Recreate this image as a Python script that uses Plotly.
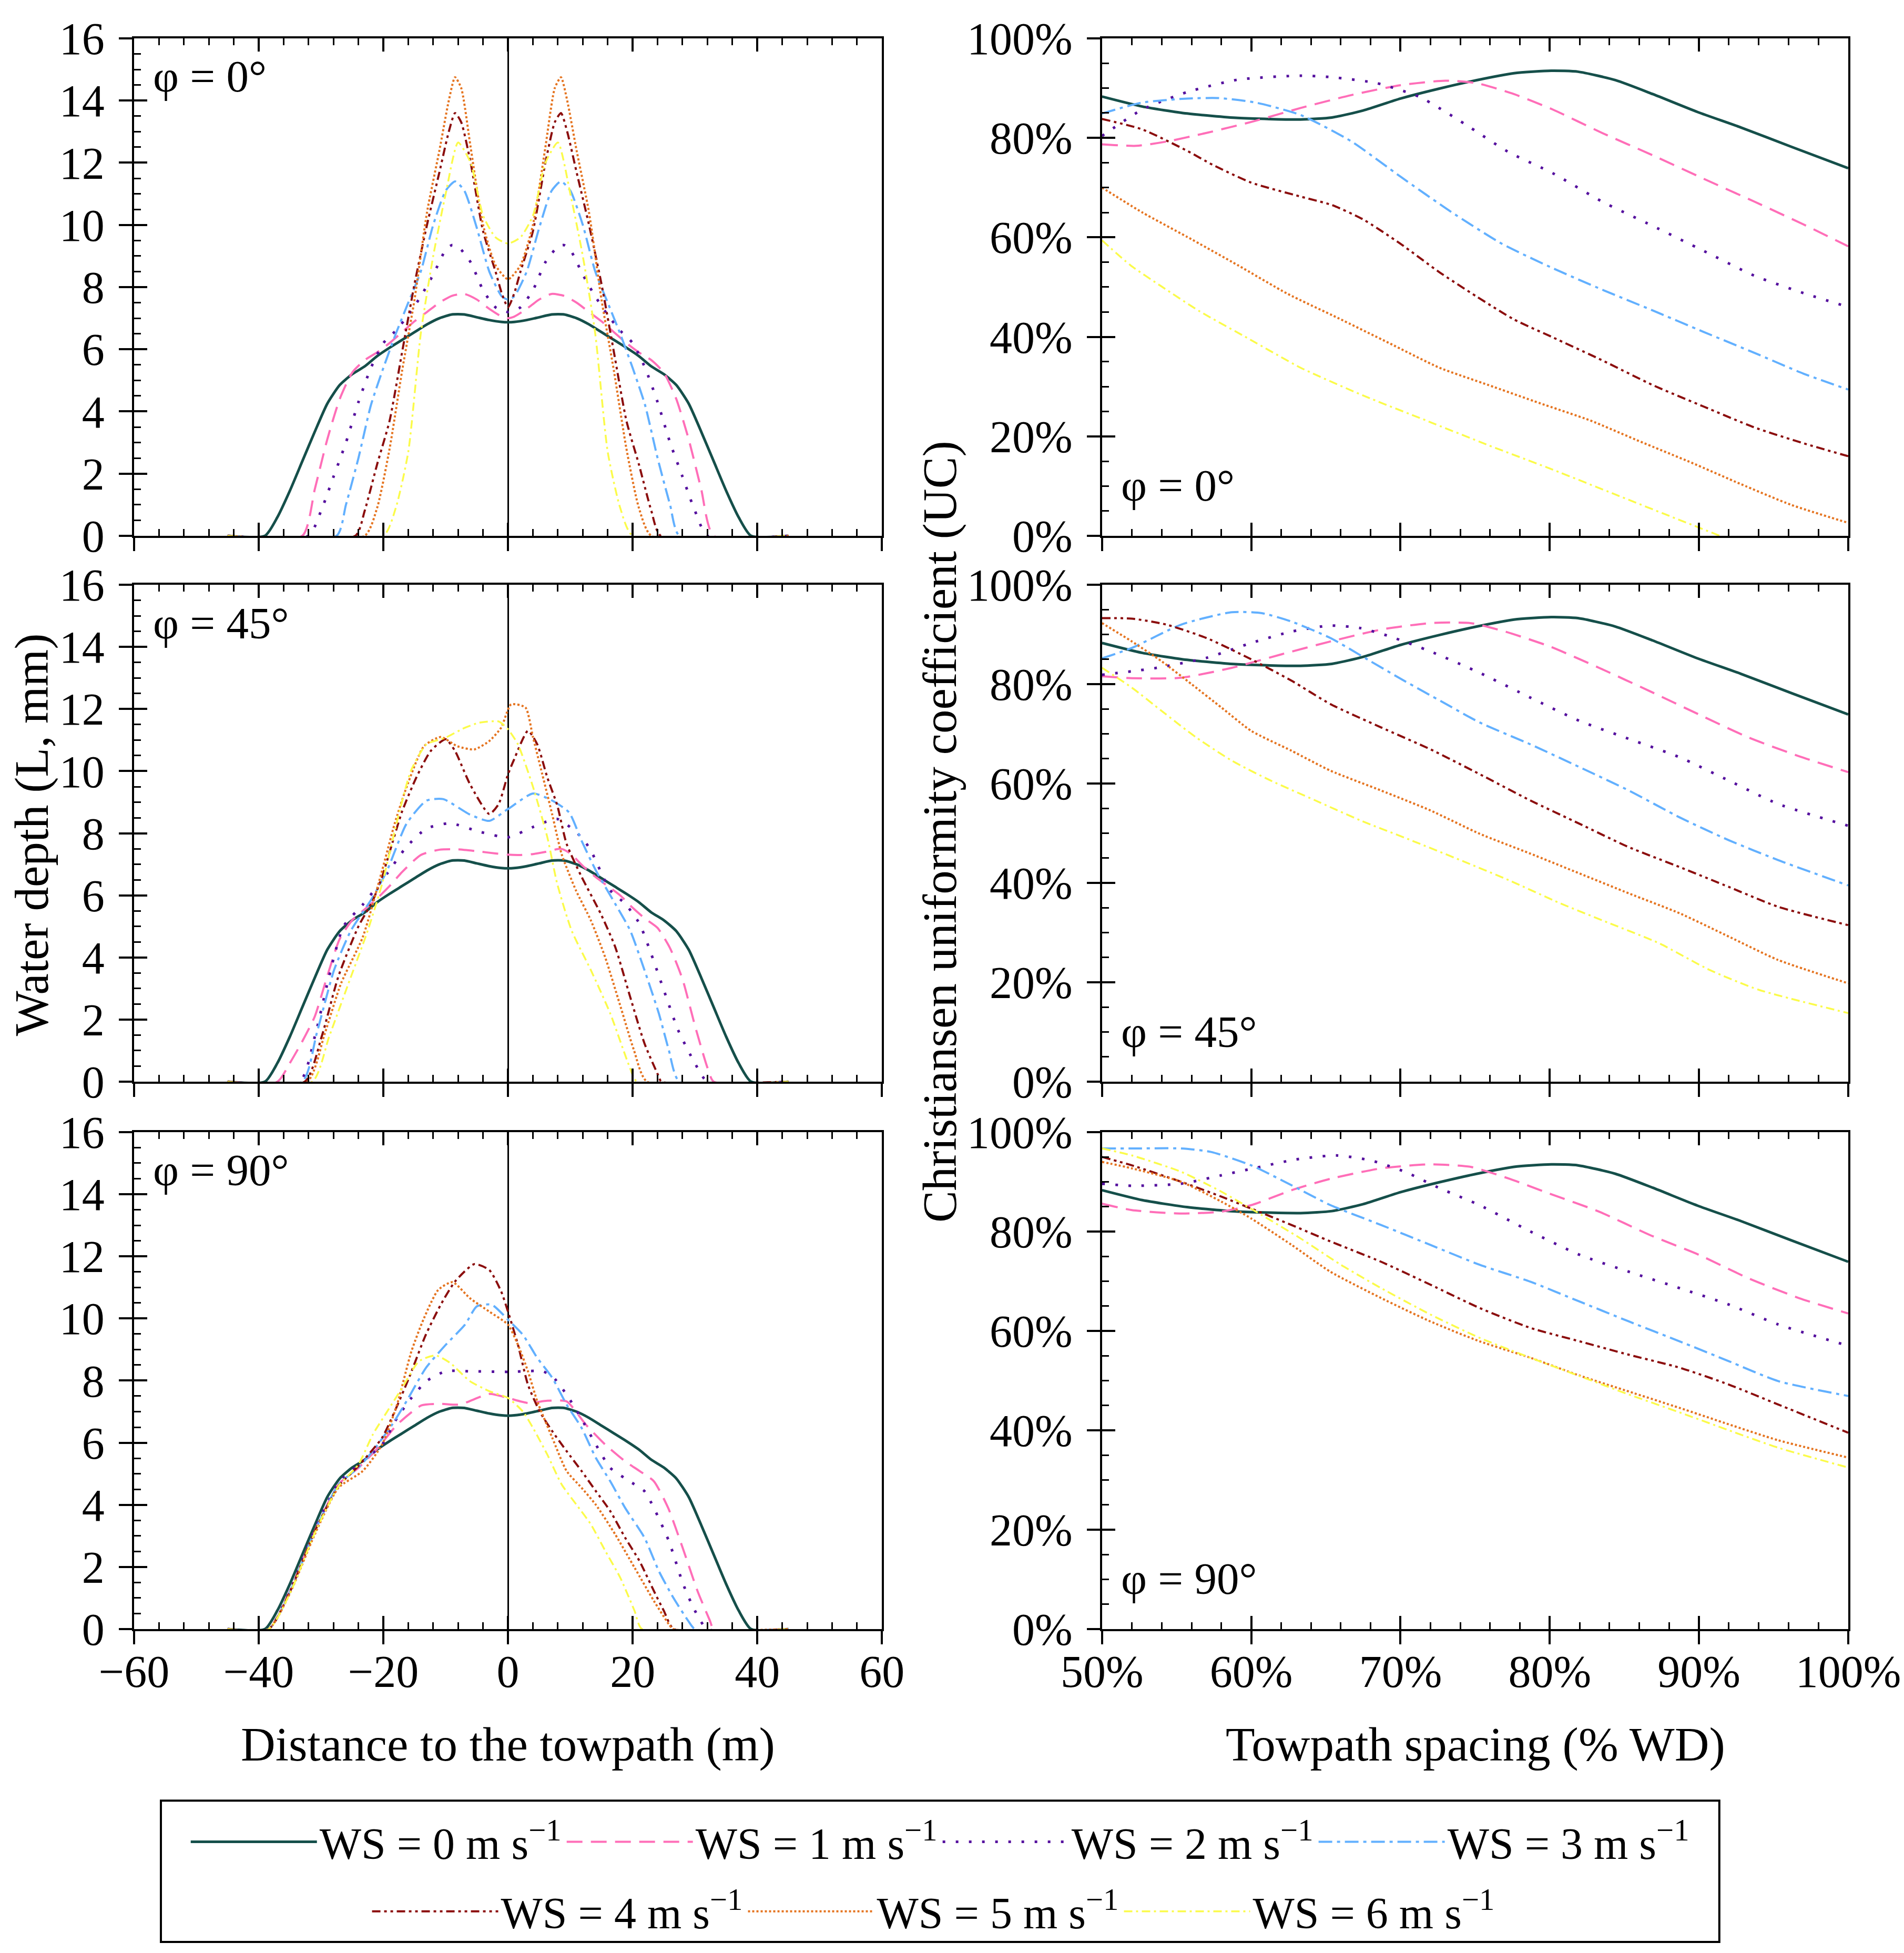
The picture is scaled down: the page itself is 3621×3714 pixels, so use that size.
import plotly.graph_objects as go

# ---- series styling / names ----
ws_names = ["WS = %d m s<sup>−1</sup>" % i for i in range(7)]
ws_colors = ["#154f4a", "#ff6eb8", "#55109e", "#62b0ff", "#8b0d0d", "#e57420", "#fbfb4a"]
ws_dashes = ["solid", "30px,16px", "5px,20px", "26px,9px,6px,9px",
             "16px,7px,5px,7px,5px,7px", "4px,4px", "16px,7px,4px,7px"]
ws_widths = [5, 4, 5, 4, 4, 4, 3.5]

# ---- water depth (mm) vs distance to towpath (m) ----
# WS = 0 is the same in every panel (no wind)
depth_ws0_x = [-45, -39, -37, -35, -33, -31, -29, -27, -25, -23, -21, -19, -17, -15, -13, -11, -9, -7, -5, -3, -1, 0,
               1, 3, 5, 7, 9, 11, 13, 15, 17, 19, 21, 23, 25, 27, 29, 31, 33, 35, 37, 39, 45]
depth_ws0_y = [0, 0, 0.6, 1.45, 2.4, 3.35, 4.25, 4.85, 5.2, 5.45, 5.78, 6.05, 6.3, 6.55, 6.8, 7.0, 7.12, 7.12, 7.03, 6.94, 6.88, 6.87,
               6.88, 6.94, 7.03, 7.12, 7.12, 7.0, 6.8, 6.55, 6.3, 6.05, 5.78, 5.45, 5.2, 4.85, 4.25, 3.35, 2.4, 1.45, 0.6, 0, 0]

# phi = 0
d0_ws1_x = [-45, -33, -31, -29, -27, -25, -23, -21, -19, -17, -15, -13, -11, -9, -7, -5, -3, -1, 0,
            1, 3, 5, 7, 9, 11, 13, 15, 17, 19, 21, 23, 25, 27, 29, 31, 33, 45]
d0_ws1_y = [0, 0, 1.5, 3.1, 4.4, 5.25, 5.65, 5.9, 6.2, 6.55, 6.9, 7.2, 7.5, 7.72, 7.78, 7.6, 7.3, 7.05, 7.0,
            7.05, 7.3, 7.6, 7.78, 7.72, 7.5, 7.2, 6.9, 6.55, 6.2, 5.9, 5.65, 5.25, 4.4, 3.1, 1.5, 0, 0]
d0_ws2_x = [-45, -32, -30, -28, -26, -24, -22, -20, -18, -16, -14, -12, -10, -9, -8, -6, -4, -2, 0,
            2, 4, 6, 8, 9, 10, 12, 14, 16, 18, 20, 22, 24, 26, 28, 30, 32, 45]
d0_ws2_y = [0, 0, 0.8, 1.9, 3.0, 4.3, 5.4, 6.2, 6.6, 7.1, 7.7, 8.4, 9.2, 9.35, 9.3, 8.8, 7.9, 7.35, 7.2,
            7.35, 7.9, 8.8, 9.3, 9.35, 9.2, 8.4, 7.7, 7.1, 6.6, 6.2, 5.4, 4.3, 3.0, 1.9, 0.8, 0, 0]
d0_ws3_x = [-45, -27.5, -26, -24, -22, -20, -18, -16, -14, -12, -10, -8.5, -7, -5, -3, -1, 0,
            1, 3, 5, 7, 8.5, 10, 12, 14, 16, 18, 20, 22, 24, 26, 27.5, 45]
d0_ws3_y = [0, 0, 1.0, 2.5, 4.2, 5.4, 6.5, 7.5, 8.5, 10.0, 11.1, 11.4, 11.1, 9.9, 8.5, 7.7, 7.6,
            7.7, 8.5, 9.9, 11.1, 11.4, 11.1, 10.0, 8.5, 7.5, 6.5, 5.4, 4.2, 2.5, 1.0, 0, 0]
d0_ws4_x = [-45, -24.5, -23, -21, -19, -17, -15, -13, -11, -9.5, -8.5, -7.5, -6, -4, -2, -1, 0,
            1, 2, 4, 6, 7.5, 8.5, 9.5, 11, 13, 15, 17, 19, 21, 23, 24.5, 45]
d0_ws4_y = [0, 0, 0.8, 2.3, 3.7, 5.9, 8.1, 10.0, 11.7, 13.0, 13.6, 13.3, 12.0, 9.8, 8.5, 7.8, 7.35,
            7.8, 8.5, 9.8, 12.0, 13.3, 13.6, 13.0, 11.7, 10.0, 8.1, 5.9, 3.7, 2.3, 0.8, 0, 0]
d0_ws5_x = [-45, -23, -21, -19, -17, -15, -13, -11, -9.5, -8.5, -7.5, -6, -4, -2, 0,
            2, 4, 6, 7.5, 8.5, 9.5, 11, 13, 15, 17, 19, 21, 23, 45]
d0_ws5_y = [0, 0, 0.9, 2.8, 5.3, 7.6, 10.4, 12.4, 14.0, 14.75, 14.4, 12.5, 10.0, 8.7, 8.25,
            8.7, 10.0, 12.5, 14.4, 14.75, 14.0, 12.4, 10.4, 7.6, 5.3, 2.8, 0.9, 0, 0]
d0_ws6_x = [-45, -20, -18, -16, -14, -12, -10, -8, -6, -4, -2, 0,
            2, 4, 6, 8, 10, 12, 14, 16, 18, 20, 45]
d0_ws6_y = [0, 0, 0.9, 2.7, 6.5, 9.0, 11.0, 12.65, 12.0, 10.3, 9.6, 9.4,
            9.6, 10.3, 12.0, 12.65, 11.0, 9.0, 6.5, 2.7, 0.9, 0, 0]

# phi = 45
d45_ws1_x = [-45, -37, -35, -33, -31, -29, -27, -25, -23, -21, -19, -17, -14, -11, -8, -5, -2, 0,
             2, 4, 6, 8.5, 10, 12, 14, 16, 18, 20, 22, 24, 26, 28, 30, 32, 33, 45]
d45_ws1_y = [0, 0, 0.6, 1.3, 2.1, 3.4, 4.6, 5.2, 5.55, 5.9, 6.3, 6.75, 7.3, 7.47, 7.48, 7.42, 7.35, 7.31,
             7.3, 7.33, 7.4, 7.5, 7.35, 6.95, 6.6, 6.3, 6.0, 5.6, 5.25, 4.95, 4.3, 3.3, 1.8, 0.45, 0, 0]
d45_ws2_x = [-45, -33.4, -31, -28.7, -26.4, -23.3, -19.4, -16.3, -13.1, -9.3, -4.6, 0,
             4, 7.9, 11.8, 13.3, 16.4, 18.8, 21.1, 23, 25, 27.3, 30, 32, 45]
d45_ws2_y = [0, 0, 1.45, 3.4, 5.0, 5.7, 6.7, 7.56, 8.15, 8.32, 8.05, 7.87,
             8.2, 8.46, 7.87, 7.44, 6.16, 5.73, 5.09, 4.1, 2.95, 1.66, 0.59, 0, 0]
d45_ws3_x = [-45, -33, -30.7, -27.9, -25.2, -21.7, -19.4, -16.3, -13.1, -10.4, -6.1, -3, 0,
             4, 7.1, 9.8, 11.8, 14.1, 17.2, 19.6, 21.9, 24.2, 25.8, 27.5, 45]
d45_ws3_y = [0, 0, 1.55, 3.6, 4.87, 5.94, 6.8, 8.3, 9.05, 9.1, 8.6, 8.4, 8.78,
             9.28, 9.05, 8.67, 7.76, 6.8, 5.73, 4.87, 3.59, 2.2, 1.02, 0, 0]
d45_ws4_x = [-45, -32.6, -29.9, -27.2, -24, -21.7, -20.2, -17, -14.7, -12.4, -10, -8.5, -6.1, -3, -1.5, 0,
             0.9, 3.2, 4.7, 6.3, 7.9, 9.4, 11.8, 14.9, 17.2, 19.6, 21.9, 24.2, 24.6, 45]
d45_ws4_y = [0, 0, 1.45, 3.4, 5.0, 5.83, 6.6, 8.7, 9.8, 10.65, 11.03, 10.65, 9.58, 8.62, 8.94, 9.9,
             10.34, 11.3, 10.86, 9.8, 8.9, 7.66, 6.6, 5.4, 4.34, 2.73, 1.23, 0.16, 0, 0]
d45_ws5_x = [-45, -32.2, -29.4, -26.8, -23.3, -20.2, -18.2, -16.3, -13.5, -10.8, -8.1, -5.4, -3, -1.1,
             0.5, 2.8, 4, 5.5, 7.1, 8.6, 10.9, 13.3, 15.6, 17.9, 20.2, 22.3, 45]
d45_ws5_y = [0, 0, 1.55, 3.16, 4.66, 6.8, 8.3, 9.47, 10.8, 11.1, 10.8, 10.7, 10.97, 11.4,
             12.15, 12.05, 11.1, 9.9, 8.6, 7.33, 6.16, 5.19, 4.0, 2.52, 1.02, 0, 0]
d45_ws6_x = [-45, -31.4, -28.7, -25.6, -22.5, -20.2, -17.9, -15.6, -13.1, -10, -6.9, -4.6, -1.5, 0,
             1.6, 4, 6.3, 7.9, 10.2, 13.3, 16.4, 19.5, 20.7, 45]
d45_ws6_y = [0, 0, 1.45, 3.16, 4.87, 6.37, 8.3, 10.0, 10.86, 11.08, 11.4, 11.56, 11.6, 11.35,
             10.86, 9.5, 7.88, 6.37, 4.87, 3.59, 2.2, 0.48, 0, 0]

# phi = 90
d90_ws1_x = [-45, -38.4, -35, -31, -27.2, -24, -20.9, -17.8, -13.9, -10.8, -7.7, -3, 0,
             3.2, 6.3, 9.4, 12.5, 15.6, 18.8, 21.1, 23.4, 25.7, 28, 30.4, 32.4, 33, 45]
d90_ws1_y = [0, 0, 1.23, 3.16, 4.66, 5.19, 5.83, 6.58, 7.2, 7.25, 7.23, 7.57, 7.44,
             7.28, 7.35, 7.33, 6.58, 5.94, 5.4, 5.09, 4.76, 3.9, 2.63, 1.23, 0.27, 0, 0]
d90_ws2_x = [-45, -38.4, -35, -31, -27.2, -23.3, -20.2, -17.8, -15.5, -13.1, -10, -6.1, 0,
             5.5, 7.1, 9.4, 11.7, 14.1, 16.4, 19.5, 21.9, 23.4, 25.8, 28.1, 30, 32, 45]
d90_ws2_y = [0, 0, 1.23, 3.2, 4.7, 5.4, 5.94, 6.8, 7.44, 7.98, 8.3, 8.3, 8.28,
             8.3, 8.14, 7.55, 6.8, 5.94, 5.19, 4.76, 4.44, 3.9, 2.84, 1.45, 0.59, 0, 0]
d90_ws3_x = [-45, -38.4, -35, -31, -27.2, -24, -21.7, -18.6, -16.3, -13.2, -10, -6.9, -5, -2.6, 0,
             2.4, 4.7, 7.1, 9.4, 11.8, 14.1, 16.4, 18.8, 21.9, 24.2, 26.5, 28.9, 30, 45]
d90_ws3_y = [0, 0, 1.2, 3.15, 4.65, 5.2, 5.73, 6.58, 7.33, 8.4, 9.15, 9.8, 10.39, 10.44, 9.96,
             9.47, 8.73, 8.09, 7.23, 6.48, 5.51, 4.76, 3.9, 2.94, 1.87, 1.02, 0.27, 0, 0]
d90_ws4_x = [-45, -38.4, -35, -31, -27.2, -24, -20.2, -18.2, -15.9, -13.2, -10.8, -8.5, -5.4, -3, -1.1, 0,
             1.6, 3.2, 5.1, 7.1, 9.4, 11.8, 14.1, 16.4, 18.8, 21.1, 23.4, 25, 26.6, 45]
d90_ws4_y = [0, 0, 1.2, 3.15, 4.6, 5.25, 6.16, 7.0, 8.08, 9.47, 10.44, 11.19, 11.75, 11.56, 10.87, 10.22,
             9.15, 7.87, 7.0, 6.37, 5.73, 5.09, 4.44, 3.8, 2.94, 2.19, 1.23, 0.59, 0, 0]
d90_ws5_x = [-45, -38.4, -35, -31, -27.2, -23.3, -20.2, -17.8, -15.5, -13.5, -11.2, -8.9, -6.1, -3, 0,
             1.6, 3.2, 4.7, 7.1, 9.4, 11.8, 14.1, 17.2, 20.3, 23.4, 25.8, 26.5, 45]
d90_ws5_y = [0, 0, 1.15, 3.05, 4.55, 5.09, 5.94, 7.23, 8.94, 10.0, 10.92, 11.17, 10.65, 10.22, 9.8,
             9.15, 8.3, 7.33, 6.16, 5.09, 4.55, 4.0, 3.05, 1.98, 0.91, 0.16, 0, 0]
d90_ws6_x = [-45, -38.4, -35, -31, -27.2, -24, -21.7, -19.4, -17, -14.3, -11.6, -9.3, -6.1, -3, 0,
             2.4, 4, 6.3, 8.6, 11, 13.3, 15.6, 18, 20.3, 21.5, 45]
d90_ws6_y = [0, 0, 1.15, 3.1, 4.6, 5.3, 6.26, 7.0, 7.76, 8.62, 8.81, 8.57, 7.98, 7.66, 7.44,
             7.0, 6.48, 5.62, 4.66, 4.0, 3.37, 2.52, 1.66, 0.59, 0, 0]

# ---- Christiansen uniformity coefficient (%) vs towpath spacing (% WD) ----
uc_ws0_x = [50, 52.7, 55.7, 59.1, 63.3, 65.4, 67.5, 70, 72.6, 75.1, 77.6, 80.1, 81.9, 84.4, 86.9, 89.9, 92.8, 96.2, 100]
uc_ws0_y = [88.3, 86.3, 84.9, 84.0, 83.7, 84.1, 85.5, 87.9, 89.9, 91.6, 93.0, 93.5, 93.3, 91.6, 88.8, 85.2, 82.1, 78.2, 73.9]

# phi = 0
u0_ws1_x = [50, 52.3, 54.4, 57, 60, 63.3, 66.7, 70, 73, 75.1, 77.6, 80.2, 83.5, 86.9, 90.3, 93.7, 97, 100]
u0_ws1_y = [78.7, 78.4, 79.3, 81, 83.2, 86, 88.6, 90.6, 91.5, 91, 88.8, 85.7, 81, 76.5, 71.8, 67.2, 62.6, 58.2]
u0_ws2_x = [50, 52.7, 55.7, 59.1, 63.3, 65.4, 68.4, 71.3, 74.3, 77.2, 80.2, 83.5, 86.9, 90.3, 93.7, 97, 100]
u0_ws2_y = [80.4, 85.7, 89.2, 91.7, 92.5, 92.2, 91, 88.2, 82.8, 77.2, 72.9, 67.2, 62.3, 57.3, 52.3, 48.8, 46.0]
u0_ws3_x = [50, 52.7, 55.7, 57.8, 60.3, 63.3, 66.7, 70, 73.4, 76.8, 80.2, 83.5, 86.9, 90.3, 93.7, 97, 100]
u0_ws3_y = [84.9, 87.1, 87.9, 88.0, 87.1, 84.6, 79.3, 72.2, 65.1, 58.7, 53.8, 49.5, 45.3, 41.0, 36.8, 32.6, 29.4]
u0_ws4_x = [50, 52.7, 55.7, 57.4, 60, 63.3, 65.4, 67.5, 70, 72.6, 75.1, 77.6, 80.2, 83.5, 86.9, 90.3, 93.7, 97, 100]
u0_ws4_y = [83.8, 81.7, 77.4, 74.6, 71.0, 68.2, 66.5, 63.6, 58.7, 53, 48.1, 43.5, 39.9, 35.3, 30.3, 26.0, 21.8, 18.6, 16.0]
u0_ws5_x = [50, 52.7, 55.7, 59.1, 62.4, 65.8, 69.2, 72.6, 75.9, 79.3, 82.7, 86.1, 89.5, 92.8, 96.2, 100]
u0_ws5_y = [70, 65, 60.1, 54.4, 48.7, 43.8, 38.8, 33.8, 30.3, 26.7, 23.2, 18.9, 14.7, 10.4, 6.2, 2.6]
u0_ws6_x = [50, 51.9, 54, 56.5, 59.9, 63.3, 67.5, 71.7, 75.9, 80.2, 84.4, 88.6, 91.4]
u0_ws6_y = [59.4, 54.4, 50.1, 45.2, 39.5, 33.8, 28.2, 23.2, 18.2, 13.3, 8.3, 3.3, 0]

# phi = 45
u45_ws1_x = [50, 52, 55.3, 58.7, 62, 65.3, 68.7, 72, 74.7, 77, 80, 83.3, 86.7, 90, 93.3, 96.7, 100]
u45_ws1_y = [81.6, 81.2, 81.3, 83.3, 86, 88.6, 91, 92.3, 92.3, 90.6, 87.6, 83.3, 78.6, 73.9, 69.3, 65.5, 62.3]
u45_ws2_x = [50, 52, 53.7, 57, 60, 62.7, 65.3, 67.3, 69.3, 72, 75.3, 78.7, 82, 85.3, 88.7, 92, 95.3, 100]
u45_ws2_y = [81.9, 82.6, 83.3, 85.3, 88.3, 90.6, 91.8, 91.3, 89.6, 86.6, 82.3, 77.3, 72.6, 69.0, 65.3, 60.6, 55.9, 51.5]
u45_ws3_x = [50, 52, 55.3, 58.7, 60.7, 62.7, 65.3, 68, 70.3, 72.7, 75.3, 78.7, 82, 85.3, 88.7, 92, 95.3, 100]
u45_ws3_y = [85.2, 87.3, 92, 94.5, 94.3, 92.6, 89.3, 84.6, 80.6, 76.6, 72.3, 67.9, 63.3, 58.6, 53.2, 48.6, 44.6, 39.5]
u45_ws4_x = [50, 52, 54.3, 57, 60, 62.7, 65.3, 68.7, 72, 75.3, 78.7, 82, 85.3, 88.7, 92, 95.3, 100]
u45_ws4_y = [93.3, 93.2, 92.0, 89.3, 85, 80.7, 76, 71.3, 66.9, 61.9, 56.6, 51.9, 47.2, 43.2, 39.2, 35.2, 31.5]
u45_ws5_x = [50, 52, 54, 56, 58, 60, 62.7, 65.3, 68.7, 72, 75.3, 78.7, 82, 85.3, 88.7, 92, 95.3, 100]
u45_ws5_y = [92.3, 88.6, 84.6, 80, 75.3, 70.6, 66.6, 62.6, 58.6, 54.6, 49.9, 45.9, 41.9, 37.9, 33.9, 29.2, 24.5, 19.8]
u45_ws6_x = [50, 52, 54, 56.3, 58.7, 61.3, 64.3, 67.3, 70.7, 74, 77.3, 80.7, 84, 87.3, 90.7, 94, 100]
u45_ws6_y = [83.3, 79.3, 74.6, 69.3, 64.6, 60.6, 56.6, 52.6, 48.6, 44.6, 40.5, 35.9, 31.9, 27.9, 22.5, 18.5, 13.8]

# phi = 90
u90_ws1_x = [50, 52, 55.3, 58, 60, 62.7, 65.3, 68.7, 72, 74.7, 77.3, 80, 83.3, 86.7, 90, 93.3, 96.7, 100]
u90_ws1_y = [85.6, 84.3, 83.6, 84, 85.3, 88.3, 90.6, 92.7, 93.5, 93, 90.6, 87.6, 84, 79.3, 75.3, 70.6, 66.6, 63.5]
u90_ws2_x = [50, 52, 55.3, 58, 60.3, 63, 65.7, 68, 70.3, 72.7, 75.3, 78.7, 82, 85.3, 88.7, 92, 95.3, 100]
u90_ws2_y = [89.6, 89.2, 89.6, 91.3, 92.8, 94.5, 95.3, 94.3, 92, 88.6, 85.3, 80, 75.3, 71.9, 68.6, 65.3, 61.3, 57.0]
u90_ws3_x = [50, 52, 55.3, 57.3, 60, 62.7, 65.3, 68.7, 72, 75.3, 78.7, 82, 85.3, 88.7, 92, 95.3, 100]
u90_ws3_y = [96.7, 96.7, 96.7, 96, 93.3, 89.3, 85.3, 81.3, 77.3, 73.3, 69.9, 65.9, 61.9, 57.9, 53.9, 49.9, 46.9]
u90_ws4_x = [50, 52, 55.3, 58, 60, 62.7, 65.3, 68.7, 72, 75.3, 78.7, 82, 85.3, 88.7, 92, 95.3, 100]
u90_ws4_y = [95, 93.3, 90, 87, 84.6, 81.3, 78, 73.9, 69.3, 64.6, 60.6, 57.9, 55.2, 52.6, 49.2, 45.2, 39.5]
u90_ws5_x = [50, 52, 55.3, 58, 60, 62.7, 65.3, 68.7, 72, 75.3, 78.7, 82, 85.3, 88.7, 92, 95.3, 100]
u90_ws5_y = [94, 92.7, 90, 86, 82.6, 77.3, 71.9, 66.6, 61.9, 57.9, 54.6, 51.0, 47.8, 44.5, 41.2, 38.0, 34.5]
u90_ws6_x = [50, 52, 55.3, 58, 60.7, 63.3, 66, 68.7, 72, 75.3, 78.7, 82, 85.3, 88.7, 92, 95.3, 100]
u90_ws6_y = [96.7, 95.3, 92, 88, 83.3, 78.6, 73.3, 68.6, 63.3, 58.6, 54.6, 50.9, 47.2, 43.6, 40.0, 36.5, 32.5]

depth_panels = [
    [(depth_ws0_x, depth_ws0_y), (d0_ws1_x, d0_ws1_y), (d0_ws2_x, d0_ws2_y), (d0_ws3_x, d0_ws3_y),
     (d0_ws4_x, d0_ws4_y), (d0_ws5_x, d0_ws5_y), (d0_ws6_x, d0_ws6_y)],
    [(depth_ws0_x, depth_ws0_y), (d45_ws1_x, d45_ws1_y), (d45_ws2_x, d45_ws2_y), (d45_ws3_x, d45_ws3_y),
     (d45_ws4_x, d45_ws4_y), (d45_ws5_x, d45_ws5_y), (d45_ws6_x, d45_ws6_y)],
    [(depth_ws0_x, depth_ws0_y), (d90_ws1_x, d90_ws1_y), (d90_ws2_x, d90_ws2_y), (d90_ws3_x, d90_ws3_y),
     (d90_ws4_x, d90_ws4_y), (d90_ws5_x, d90_ws5_y), (d90_ws6_x, d90_ws6_y)],
]
uc_panels = [
    [(uc_ws0_x, uc_ws0_y), (u0_ws1_x, u0_ws1_y), (u0_ws2_x, u0_ws2_y), (u0_ws3_x, u0_ws3_y),
     (u0_ws4_x, u0_ws4_y), (u0_ws5_x, u0_ws5_y), (u0_ws6_x, u0_ws6_y)],
    [(uc_ws0_x, uc_ws0_y), (u45_ws1_x, u45_ws1_y), (u45_ws2_x, u45_ws2_y), (u45_ws3_x, u45_ws3_y),
     (u45_ws4_x, u45_ws4_y), (u45_ws5_x, u45_ws5_y), (u45_ws6_x, u45_ws6_y)],
    [(uc_ws0_x, uc_ws0_y), (u90_ws1_x, u90_ws1_y), (u90_ws2_x, u90_ws2_y), (u90_ws3_x, u90_ws3_y),
     (u90_ws4_x, u90_ws4_y), (u90_ws5_x, u90_ws5_y), (u90_ws6_x, u90_ws6_y)],
]
phi_labels = ["φ = 0°", "φ = 45°", "φ = 90°"]

W, H = 3621, 3714
FONT = "Liberation Serif"
TICK_FS = 86
TITLE_FS = 91
LEG_FS = 84
PHI_FS = 85

left_dom = [0.0682, 0.4610]
right_dom = [0.5766, 0.9685]
row_doms = [[0.7278, 0.9825], [0.4483, 0.7027], [0.1680, 0.4225]]

fig = go.Figure()
layout = {}

for row in range(3):
    for col in range(2):
        n = row * 2 + col + 1      # main axes
        m = n + 6                  # overlay axes (inside ticks)
        xs = "" if n == 1 else str(n)
        if col == 0:
            data = depth_panels[row]
            xr, yr = [-60, 60], [0, 16]
            xd, yd, xmin, ymin = 20, 2, 4, 0.5
            suffix = ""
        else:
            data = uc_panels[row]
            xr, yr = [50, 100], [0, 100]
            xd, yd, xmin, ymin = 10, 20, 2, 5
            suffix = "%"

        for i, (xv, yv) in enumerate(data):
            fig.add_trace(go.Scatter(
                x=xv, y=yv, mode="lines", name=ws_names[i],
                line=dict(color=ws_colors[i], dash=ws_dashes[i], width=ws_widths[i],
                          shape="spline", smoothing=0.6),
                xaxis="x" + xs, yaxis="y" + xs,
                showlegend=(n == 1), legend="legend" if i < 4 else "legend2",
                hoverinfo="skip"))

        # dummy traces so the overlay tick axes are drawn
        fig.add_trace(go.Scatter(x=[xr[0]], y=[yr[0]], mode="markers", marker=dict(opacity=0),
                                 xaxis="x%d" % m, yaxis="y" + xs, showlegend=False, hoverinfo="skip"))
        fig.add_trace(go.Scatter(x=[xr[0]], y=[yr[0]], mode="markers", marker=dict(opacity=0),
                                 xaxis="x" + xs, yaxis="y%d" % m, showlegend=False, hoverinfo="skip"))

        dom_x = left_dom if col == 0 else right_dom
        tickfont = dict(family=FONT, size=TICK_FS, color="black")
        layout["xaxis" + xs] = dict(
            domain=dom_x, anchor="y" + xs, range=xr, autorange=False, dtick=xd, tick0=xr[0],
            ticks="outside", ticklen=25, tickwidth=4, tickcolor="black", automargin=False,
            showline=True, linewidth=4, linecolor="black", mirror=True,
            showgrid=False, zeroline=(col == 0), zerolinecolor="black", zerolinewidth=2.5,
            showticklabels=(row == 2), ticksuffix=suffix, tickfont=tickfont, ticklabelstandoff=-22)
        layout["yaxis" + xs] = dict(
            domain=row_doms[row], anchor="x" + xs, range=yr, autorange=False, dtick=yd, tick0=0,
            ticks="outside", ticklen=25, tickwidth=4, tickcolor="black", automargin=False,
            showline=True, linewidth=4, linecolor="black", mirror=True,
            showgrid=False, zeroline=False, ticksuffix=suffix, tickfont=tickfont, ticklabelstandoff=10)
        layout["xaxis%d" % m] = dict(
            overlaying="x" + xs, anchor="y" + xs, side="bottom", range=xr, autorange=False,
            dtick=xd, tick0=xr[0], ticks="inside", ticklen=25, tickwidth=4, tickcolor="black",
            minor=dict(dtick=xmin, ticks="inside", ticklen=13, tickwidth=3, tickcolor="black"),
            showline=True, linewidth=4, linecolor="black", mirror="ticks", automargin=False,
            showgrid=False, zeroline=False, showticklabels=False)
        layout["yaxis%d" % m] = dict(
            overlaying="y" + xs, anchor="x" + xs, side="left", range=yr, autorange=False,
            dtick=yd, tick0=0, ticks="inside", ticklen=25, tickwidth=4, tickcolor="black",
            minor=dict(dtick=ymin, ticks="inside", ticklen=13, tickwidth=3, tickcolor="black"),
            showline=False, showgrid=False, zeroline=False, showticklabels=False, automargin=False)

annotations = []
phi_left_y = [0.963, 0.6832, 0.4032]
phi_right_y = [0.7536, 0.4739, 0.1939]
for r in range(3):
    annotations.append(dict(text=phi_labels[r], x=0.0776, y=phi_left_y[r], xref="paper", yref="paper",
                            xanchor="left", yanchor="middle", showarrow=False,
                            font=dict(family=FONT, size=PHI_FS, color="black")))
    annotations.append(dict(text=phi_labels[r], x=0.586, y=phi_right_y[r], xref="paper", yref="paper",
                            xanchor="left", yanchor="middle", showarrow=False,
                            font=dict(family=FONT, size=PHI_FS, color="black")))

title_font = dict(family=FONT, size=TITLE_FS, color="black")
annotations += [
    dict(text="Distance to the towpath (m)", x=0.2646, y=0.109, xref="paper", yref="paper",
         xanchor="center", yanchor="middle", showarrow=False, font=title_font),
    dict(text="Towpath spacing (% WD)", x=0.7726, y=0.109, xref="paper", yref="paper",
         xanchor="center", yanchor="middle", showarrow=False, font=title_font),
    dict(text="Water depth (L, mm)", x=0.0144, y=0.5748, xref="paper", yref="paper", textangle=-90,
         xanchor="center", yanchor="middle", showarrow=False, font=title_font),
    dict(text="Christiansen uniformity coefficient (UC)", x=0.4916, y=0.5762, xref="paper", yref="paper",
         textangle=-90, xanchor="center", yanchor="middle", showarrow=False, font=title_font),
]

legend_style = dict(orientation="h", xanchor="center", yanchor="middle", bgcolor="rgba(0,0,0,0)",
                    borderwidth=0, itemwidth=240, font=dict(family=FONT, size=LEG_FS, color="black"))

fig.update_layout(
    width=W, height=H, margin=dict(l=0, r=0, t=0, b=0, autoexpand=False),
    paper_bgcolor="white", plot_bgcolor="white",
    font=dict(family=FONT, size=TICK_FS, color="black"),
    annotations=annotations,
    legend=dict(x=0.4915, y=0.059, **legend_style),
    legend2=dict(x=0.488, y=0.0234, **legend_style),
    shapes=[dict(type="rect", xref="paper", yref="paper", x0=0.0823, x1=0.9008, y0=0.0078, y1=0.0802,
                 line=dict(color="black", width=4))],
    **layout,
)

fig.write_html("out.html")
